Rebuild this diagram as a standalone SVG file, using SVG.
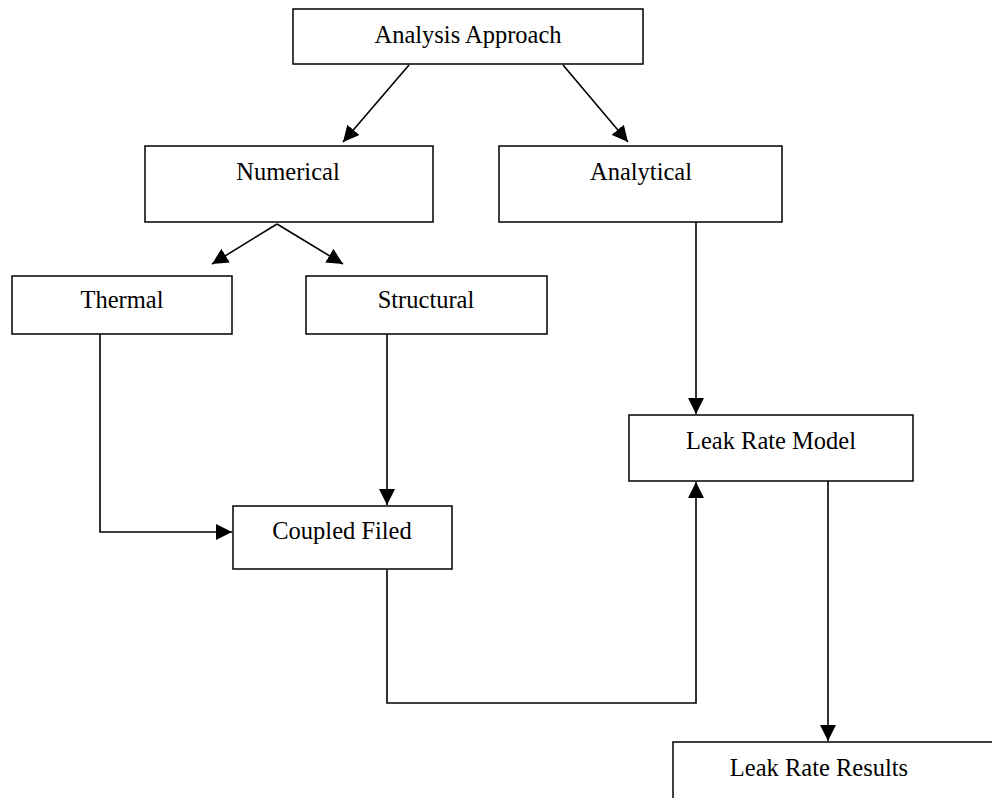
<svg xmlns="http://www.w3.org/2000/svg" width="992" height="798" viewBox="0 0 992 798">
<style>
.box{fill:#fff;stroke:#000;stroke-width:1.5}
.lbl{font-family:"Liberation Serif","Times New Roman",serif;font-size:24.5px;fill:#000;text-anchor:middle}
.con{fill:none;stroke:#000;stroke-width:1.6}
</style>
<defs>
<marker id="ah" markerUnits="userSpaceOnUse" markerWidth="16" markerHeight="16" viewBox="0 0 14 14" refX="14" refY="7" orient="auto">
<path d="M0,0 L14,7 L0,14 Z" fill="#000"/>
</marker>
</defs>
<rect width="992" height="798" fill="#fff"/>
<g id="connectors">
<path class="con" d="M409,65 L343,142" marker-end="url(#ah)"/>
<path class="con" d="M563,65 L628,142" marker-end="url(#ah)"/>
<path class="con" d="M277,224 L212,264" marker-end="url(#ah)"/>
<path class="con" d="M277,224 L343,264" marker-end="url(#ah)"/>
<path class="con" d="M100,334 L100,532 L232,532" marker-end="url(#ah)"/>
<path class="con" d="M387,334 L387,505" marker-end="url(#ah)"/>
<path class="con" d="M696,222 L696,414" marker-end="url(#ah)"/>
<path class="con" d="M387,570 L387,703 L696,703 L696,482" marker-end="url(#ah)"/>
<path class="con" d="M828,481 L828,741" marker-end="url(#ah)"/>
</g>
<g id="analysis-approach"><rect class="box" x="293" y="9" width="350" height="55"/><text class="lbl" x="468" y="43">Analysis Approach</text></g>
<g id="numerical"><rect class="box" x="145" y="146" width="288" height="76"/><text class="lbl" x="288" y="180">Numerical</text></g>
<g id="analytical"><rect class="box" x="499" y="146" width="283" height="76"/><text class="lbl" x="641" y="180">Analytical</text></g>
<g id="thermal"><rect class="box" x="12" y="276" width="220" height="58"/><text class="lbl" x="122" y="308">Thermal</text></g>
<g id="structural"><rect class="box" x="306" y="276" width="241" height="58"/><text class="lbl" x="426" y="308">Structural</text></g>
<g id="coupled-filed"><rect class="box" x="233" y="506" width="219" height="63"/><text class="lbl" x="342" y="539">Coupled Filed</text></g>
<g id="leak-rate-model"><rect class="box" x="629" y="415" width="284" height="66"/><text class="lbl" x="771" y="449">Leak Rate Model</text></g>
<g id="leak-rate-results"><rect class="box" x="673" y="742" width="340" height="80"/><text class="lbl" x="819" y="776">Leak Rate Results</text></g>
</svg>
